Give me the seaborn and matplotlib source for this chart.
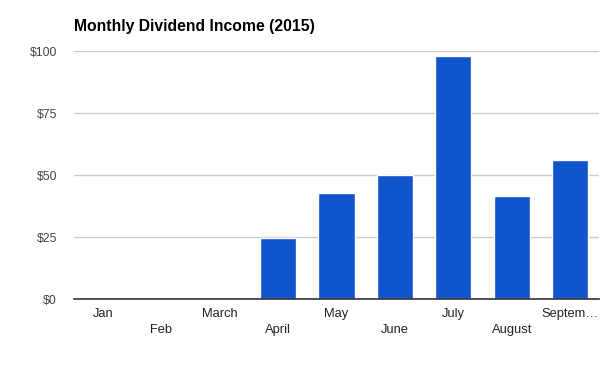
import matplotlib
matplotlib.use("Agg")
import matplotlib.pyplot as plt
import seaborn as sns
import pandas as pd

# data
months = ["Jan", "Feb", "March", "April", "May", "June", "July", "August", "Septem…"]
income = [0, 0, 0, 24.7, 42.7, 50.0, 98.0, 41.5, 56.0]
y_ticks = [0, 25, 50, 75, 100]
y_labels = ["$0", "$25", "$50", "$75", "$100"]

df = pd.DataFrame({"month": months, "income": income})

sns.set_style("white")
plt.rcParams["font.family"] = ["Liberation Sans", "DejaVu Sans"]

fig = plt.figure(figsize=(6, 3.71), dpi=100)
ax = fig.add_axes([0.1227, 0.194, 0.8763, 0.6677])

sns.barplot(data=df, x="month", y="income", color="#1155cc", width=0.62,
            saturation=1, ax=ax, zorder=3)

ax.set_ylim(0, 100)
ax.set_xlim(-0.5, len(months) - 0.5)
ax.set_yticks(y_ticks)
ax.set_yticklabels(y_labels, color="#444444", fontsize=8.8)
ax.yaxis.grid(True, color="#cccccc", linewidth=1, zorder=0)
ax.set_axisbelow(True)

# staggered month labels like the original
stagger = [m if i % 2 == 0 else "\n" + m for i, m in enumerate(months)]
ax.set_xticks(range(len(months)))
ax.set_xticklabels(stagger, color="#222222", fontsize=9.3, linespacing=1.45)
ax.tick_params(axis="both", length=0)
ax.tick_params(axis="y", pad=12)
ax.tick_params(axis="x", pad=6.5)

ax.set_xlabel("")
ax.set_ylabel("")
for side in ["top", "right", "left"]:
    ax.spines[side].set_visible(False)
ax.spines["bottom"].set_color("#333333")
ax.spines["bottom"].set_linewidth(1.2)
ax.spines["bottom"].set_zorder(4)

fig.text(74 / 600, 1 - 26 / 371, "Monthly Dividend Income (2015)",
         fontsize=11.3, fontweight="bold", color="#000000", va="center", ha="left")

fig.savefig("out.png", dpi=100)
